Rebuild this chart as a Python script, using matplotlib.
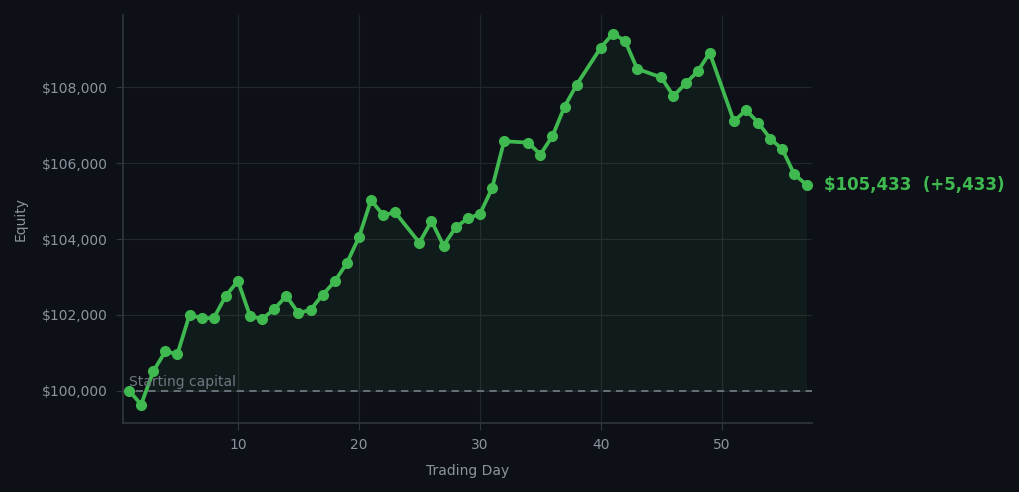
import matplotlib
matplotlib.use("Agg")
import matplotlib.pyplot as plt

# equity curve (some days have no trade)
days = [1, 2, 3, 4, 5, 6, 7, 8, 9, 10, 11, 12, 13, 14, 15, 16, 17, 18, 19, 20,
        21, 22, 23, 25, 26, 27, 28, 29, 30, 31, 32, 34, 35, 36, 37, 38, 40, 41,
        42, 43, 45, 46, 47, 48, 49, 51, 52, 53, 54, 55, 56, 57]
equity = [100000, 99632, 100508, 101034, 100966, 102000, 101913, 101913, 102500, 102895,
          101974, 101887, 102150, 102500, 102045, 102132, 102526, 102882, 103361, 104045,
          105026, 104632, 104703, 103903, 104474, 103824, 104308, 104545, 104658, 105334,
          106579, 106545, 106229, 106718, 107492, 108071, 109053, 109421, 109229, 108492,
          108263, 107771, 108105, 108421, 108913, 107105, 107403, 107071, 106650, 106368,
          105703, 105433]
start_capital = 100000

bg = "#0d1117"
green = "#3fb950"
muted = "#8b949e"

fig = plt.figure(figsize=(10.19, 4.92), dpi=100, facecolor=bg)
ax = fig.add_axes([0.1207, 0.140, 0.676, 0.8295])
ax.set_facecolor(bg)

ax.plot(days, equity, color=green, lw=2.7, marker="o", ms=7, zorder=3)
ax.fill_between(days, equity, start_capital, color=green, alpha=0.07, lw=0)
ax.axhline(start_capital, color="#6e7681", lw=1.3, ls="--", dashes=(4, 3), zorder=2)
ax.text(1, start_capital + 40, "Starting capital", color="#6e7681", fontsize=10,
        va="bottom", ha="left")

last = equity[-1]
ax.annotate(f"${last:,.0f}  (+{last - start_capital:,.0f})", xy=(days[-1], last),
            xytext=(12.5, 0), textcoords="offset points", va="center", ha="left",
            color=green, fontsize=12, fontweight="bold", annotation_clip=False)

ax.set_xlim(0.5, 57.44)
ax.margins(y=0.05)
ax.set_xticks([10, 20, 30, 40, 50])
ax.set_yticks([100000, 102000, 104000, 106000, 108000])
ax.yaxis.set_major_formatter(matplotlib.ticker.FuncFormatter(lambda v, p: f"${v:,.0f}"))

ax.grid(True, color="#21262d", lw=0.9)
ax.set_axisbelow(True)
for s in ["top", "right"]:
    ax.spines[s].set_visible(False)
for s in ["left", "bottom"]:
    ax.spines[s].set_color("#30363d")
    ax.spines[s].set_linewidth(1.2)
ax.tick_params(colors="#30363d", labelcolor=muted, labelsize=10, length=5, pad=6)
ax.set_xlabel("Trading Day", color=muted, fontsize=10, labelpad=8)
ax.set_ylabel("Equity", color=muted, fontsize=10, labelpad=10)

fig.savefig("out.png", dpi=100, facecolor=bg)
